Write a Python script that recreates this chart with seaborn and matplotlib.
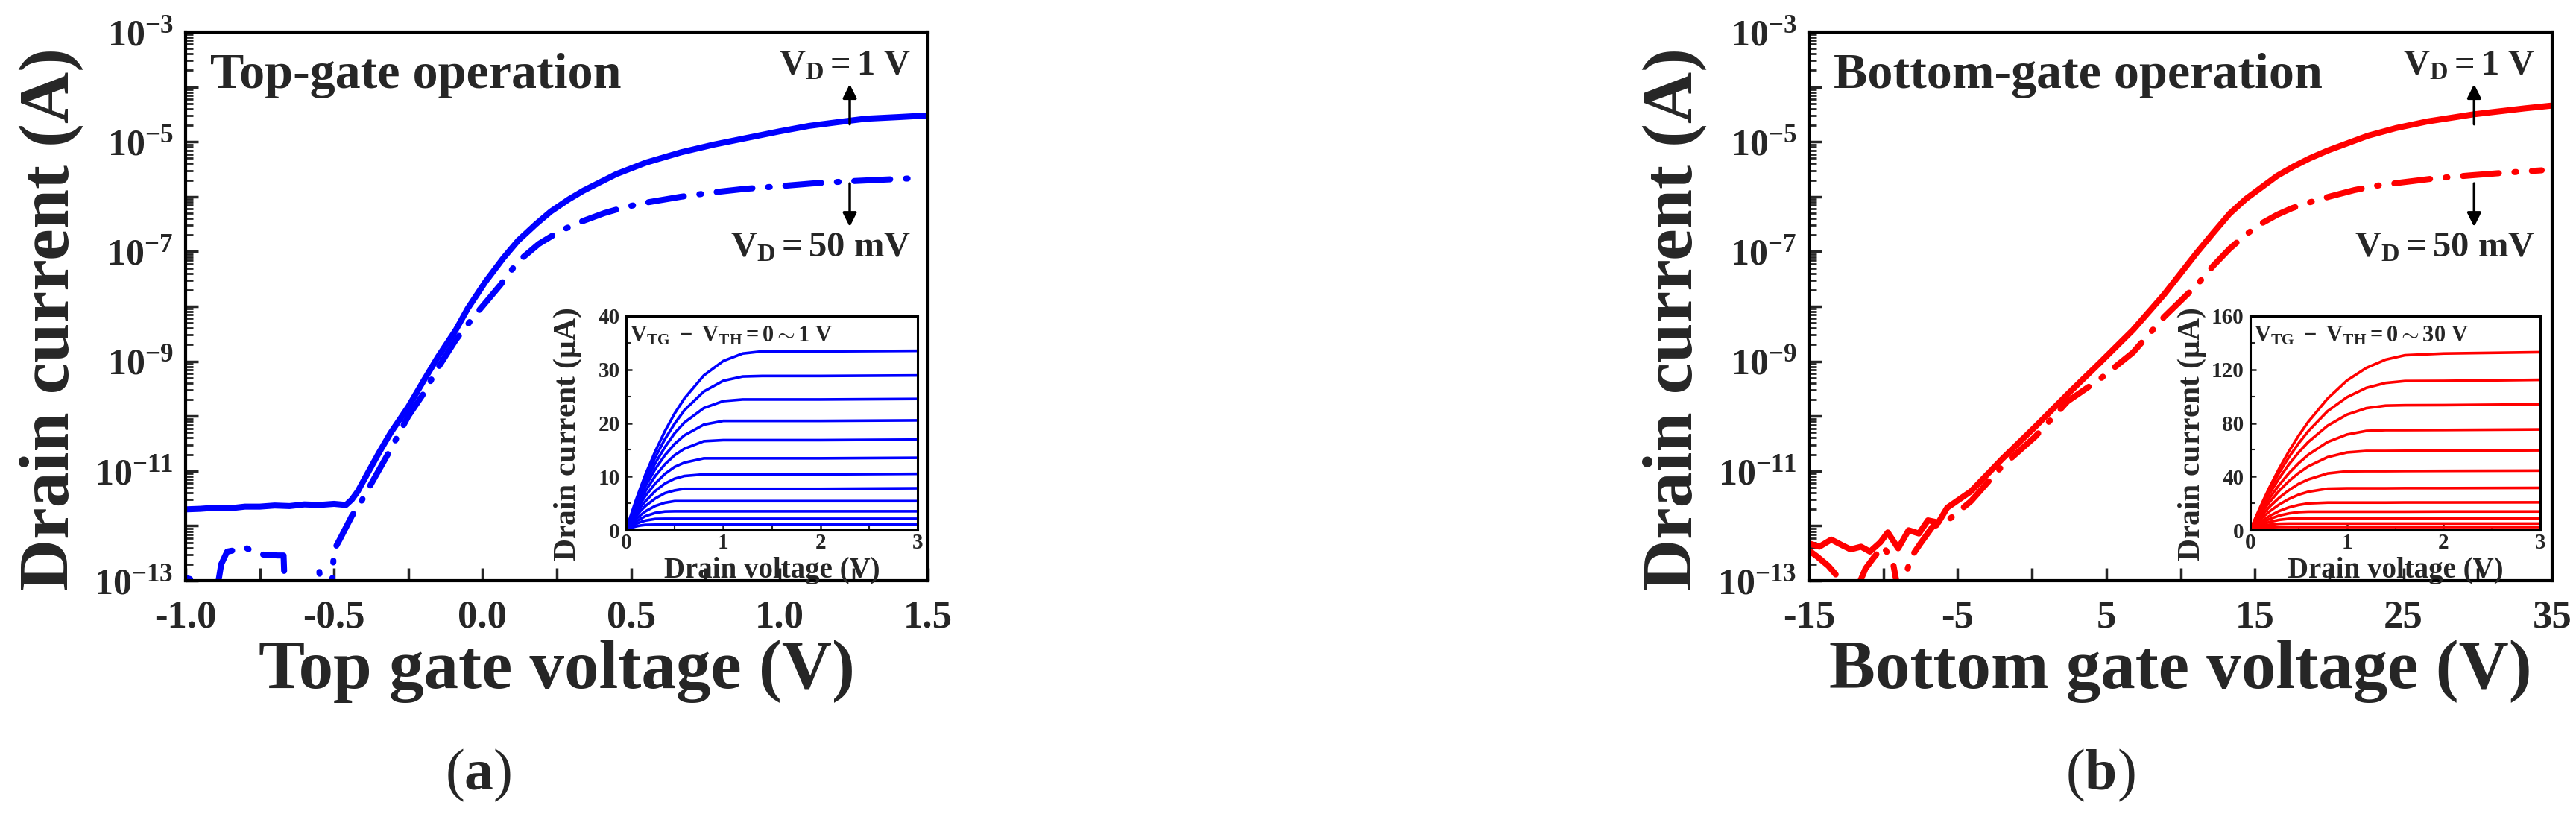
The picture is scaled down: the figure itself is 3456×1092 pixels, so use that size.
import numpy as np
import pandas as pd
import matplotlib
matplotlib.use("Agg")
import matplotlib.pyplot as plt
import seaborn as sns
from matplotlib.ticker import LogLocator, NullFormatter, MultipleLocator

# ---------------- data ----------------
# (a) top-gate transfer curves: gate voltage (V) and log10 of drain current (A)
v_top_1V = [-1.0, -0.95, -0.9, -0.85, -0.8, -0.75, -0.7, -0.65, -0.6, -0.55, -0.5, -0.46, -0.44,
            -0.42, -0.4, -0.35, -0.31, -0.25, -0.2, -0.15, -0.09, -0.05, 0.01, 0.07, 0.12, 0.18,
            0.23, 0.29, 0.34, 0.45, 0.55, 0.67, 0.78, 0.89, 1.0, 1.1, 1.2, 1.29, 1.4, 1.5]
log_top_1V = [-11.70, -11.69, -11.67, -11.68, -11.65, -11.65, -11.63, -11.64, -11.61, -11.62,
              -11.60, -11.62, -11.52, -11.37, -11.17, -10.68, -10.31, -9.83, -9.37, -8.92, -8.43,
              -8.04, -7.55, -7.12, -6.80, -6.50, -6.27, -6.05, -5.89, -5.59, -5.38, -5.19, -5.05,
              -4.93, -4.81, -4.71, -4.64, -4.58, -4.55, -4.52]
v_top_50mV = [-1.0, -0.985, -0.97, -0.91, -0.895, -0.88, -0.86, -0.84, -0.82, -0.8, -0.78, -0.75,
              -0.72, -0.69, -0.67, -0.665, -0.6, -0.56, -0.55, -0.54, -0.51, -0.5, -0.48, -0.46,
              -0.44, -0.41, -0.36, -0.31, -0.25, -0.2, -0.15, -0.09, -0.03, 0.06, 0.12, 0.19,
              0.26, 0.33, 0.41, 0.48, 0.56, 0.67, 0.78, 0.88, 1.0, 1.11, 1.23, 1.35, 1.47]
log_top_50mV = [-12.95, -12.97, -13.4, -13.4, -13.2, -12.7, -12.47, -12.45, -12.42, -12.39,
                -12.45, -12.52, -12.53, -12.54, -12.54, -13.3, -13.4, -13.2, -12.82, -13.3, -13.3,
                -12.44, -12.24, -12.03, -11.82, -11.57, -11.09, -10.61, -10.0, -9.60, -9.12,
                -8.61, -8.19, -7.61, -7.18, -6.86, -6.63, -6.46, -6.30, -6.19, -6.10, -6.00,
                -5.92, -5.86, -5.81, -5.76, -5.72, -5.69, -5.66]

# (b) bottom-gate transfer curves
v_bot_1V = [-15.0, -14.3, -13.5, -12.8, -12.2, -11.5, -10.9, -10.2, -9.7, -9.0, -8.3, -7.6, -7.0,
            -6.3, -5.7, -4.1, -2.0, 0.2, 2.4, 4.6, 6.8, 8.9, 11.1, 12.2, 13.3, 14.4, 15.5, 16.5,
            17.6, 18.7, 19.9, 21.2, 22.6, 24.5, 26.6, 29.7, 33.2, 35.0]
log_bot_1V = [-12.32, -12.38, -12.25, -12.35, -12.43, -12.38, -12.47, -12.30, -12.12, -12.41,
              -12.08, -12.14, -11.90, -11.94, -11.67, -11.37, -10.78, -10.20, -9.60, -9.02,
              -8.43, -7.78, -7.02, -6.66, -6.31, -6.04, -5.82, -5.62, -5.45, -5.30, -5.16,
              -5.03, -4.89, -4.75, -4.63, -4.50, -4.39, -4.34]
v_bot_50mV = [-15.0, -14.5, -13.7, -13.0, -12.2, -11.7, -11.2, -10.65, -10.0, -9.35, -9.0, -8.7,
              -8.15, -7.5, -6.7, -5.65, -4.1, -2.0, 0.2, 2.4, 4.6, 6.8, 8.9, 11.1, 12.2, 13.3,
              14.4, 15.5, 16.5, 17.5, 18.6, 20.0, 21.7, 23.2, 24.9, 27.0, 29.6, 32.0, 34.3]
log_bot_50mV = [-12.45, -12.55, -12.73, -12.95, -13.2, -13.1, -12.78, -12.58, -12.37, -12.67,
                -13.2, -13.1, -12.58, -12.32, -12.02, -11.90, -11.55, -10.91, -10.38, -9.73,
                -9.32, -8.84, -8.19, -7.61, -7.26, -6.95, -6.69, -6.48, -6.33, -6.21, -6.11,
                -6.00, -5.88, -5.80, -5.74, -5.67, -5.61, -5.56, -5.52]

# insets: output curves, drain voltage (V) and drain current (uA)
vd_grid = [0, 0.05, 0.1, 0.15, 0.2, 0.3, 0.4, 0.5, 0.6, 0.8, 1.0, 1.2, 1.4, 1.6, 2.0, 3.0]
inset_top_id = [
    [0, 2.8, 5.5, 8.0, 10.4, 14.7, 18.5, 21.8, 24.6, 28.9, 31.6, 33.0, 33.4, 33.4, 33.4, 33.5],
    [0, 2.6, 5.1, 7.4, 9.6, 13.6, 17.0, 19.9, 22.4, 25.9, 27.9, 28.7, 28.8, 28.8, 28.8, 28.9],
    [0, 2.5, 4.8, 6.9, 8.9, 12.5, 15.5, 18.1, 20.1, 22.8, 24.1, 24.4, 24.4, 24.4, 24.4, 24.5],
    [0, 2.3, 4.4, 6.4, 8.2, 11.4, 14.0, 16.1, 17.7, 19.7, 20.4, 20.4, 20.4, 20.4, 20.4, 20.5],
    [0, 2.0, 4.0, 5.7, 7.3, 10.1, 12.3, 14.0, 15.2, 16.6, 16.8, 16.8, 16.8, 16.8, 16.8, 16.9],
    [0, 1.8, 3.5, 5.0, 6.4, 8.7, 10.5, 11.8, 12.6, 13.4, 13.4, 13.4, 13.4, 13.4, 13.4, 13.5],
    [0, 1.6, 3.0, 4.3, 5.4, 7.3, 8.7, 9.6, 10.1, 10.4, 10.4, 10.4, 10.4, 10.4, 10.4, 10.5],
    [0, 1.3, 2.5, 3.6, 4.5, 5.9, 6.9, 7.4, 7.7, 7.7, 7.7, 7.7, 7.7, 7.7, 7.7, 7.8],
    [0, 1.1, 2.0, 2.8, 3.5, 4.5, 5.1, 5.4, 5.4, 5.4, 5.4, 5.4, 5.4, 5.4, 5.4, 5.4],
    [0, 0.84, 1.55, 2.1, 2.6, 3.2, 3.46, 3.5, 3.5, 3.5, 3.5, 3.5, 3.5, 3.5, 3.5, 3.5],
    [0, 0.62, 1.12, 1.5, 1.77, 2.07, 2.1, 2.1, 2.1, 2.1, 2.1, 2.1, 2.1, 2.1, 2.1, 2.1],
    [0, 0.39, 0.67, 0.85, 0.96, 1.0, 1.0, 1.0, 1.0, 1.0, 1.0, 1.0, 1.0, 1.0, 1.0, 1.0],
]
inset_bot_id = [
    [0, 8.4, 16.6, 24.5, 32.1, 46.1, 58.9, 70.5, 80.9, 98.3, 111.8, 121.2, 127.4, 130.7, 132.0, 133.0],
    [0, 8.0, 15.6, 23.0, 30.0, 42.9, 54.5, 64.8, 73.9, 88.9, 99.3, 106.3, 110.0, 111.4, 111.5, 112.3],
    [0, 7.4, 14.3, 21.0, 27.2, 38.8, 49.1, 58.0, 65.8, 78.0, 86.3, 91.1, 93.0, 93.3, 93.4, 94.0],
    [0, 6.5, 12.6, 18.5, 23.9, 33.8, 42.5, 49.9, 56.3, 65.8, 71.4, 74.1, 74.7, 74.7, 74.8, 75.2],
    [0, 5.7, 11.1, 16.2, 20.9, 29.4, 36.6, 42.6, 47.6, 54.5, 58.0, 59.1, 59.1, 59.2, 59.3, 59.6],
    [0, 4.8, 9.3, 13.5, 17.4, 24.2, 29.8, 34.5, 37.8, 42.3, 43.9, 44.0, 44.0, 44.1, 44.2, 44.4],
    [0, 3.9, 7.6, 10.9, 13.9, 19.1, 23.2, 26.4, 28.6, 30.9, 31.2, 31.2, 31.2, 31.3, 31.3, 31.5],
    [0, 3.1, 5.8, 8.3, 10.5, 14.2, 16.9, 18.7, 19.9, 20.5, 20.5, 20.5, 20.5, 20.6, 20.6, 20.7],
    [0, 2.5, 4.7, 6.6, 8.2, 10.8, 12.4, 13.4, 13.7, 13.7, 13.7, 13.7, 13.7, 13.7, 13.8, 13.8],
    [0, 1.9, 3.6, 4.9, 6.0, 7.6, 8.4, 8.6, 8.6, 8.6, 8.6, 8.6, 8.6, 8.6, 8.6, 8.7],
    [0, 1.4, 2.5, 3.3, 4.0, 4.65, 4.8, 4.8, 4.8, 4.8, 4.8, 4.8, 4.8, 4.8, 4.8, 4.8],
    [0, 0.8, 1.4, 1.8, 2.06, 2.2, 2.2, 2.2, 2.2, 2.2, 2.2, 2.2, 2.2, 2.2, 2.2, 2.2],
]

# tick definitions
y_exponents = list(range(-13, -2))
ytick_labels = [r"$10^{%d}$" % e if e % 2 != 0 else "" for e in y_exponents]
xticks_top = [-1.0, -0.75, -0.5, -0.25, 0.0, 0.25, 0.5, 0.75, 1.0, 1.25, 1.5]
xticklabels_top = ["-1.0", "", "-0.5", "", "0.0", "", "0.5", "", "1.0", "", "1.5"]
xticks_bot = [-15, -10, -5, 0, 5, 10, 15, 20, 25, 30, 35]
xticklabels_bot = ["-15", "", "-5", "", "5", "", "15", "", "25", "", "35"]

# ---------------- style ----------------
sns.set_theme(style="ticks")
plt.rcParams.update({
    "font.family": ["Liberation Serif", "DejaVu Serif"],
    "font.weight": "bold",
    "mathtext.fontset": "custom",
    "mathtext.rm": "Liberation Serif",
    "mathtext.bf": "Liberation Serif:bold",
    "mathtext.it": "Liberation Serif:italic",
    "mathtext.default": "bf",
    "axes.linewidth": 3,
    "axes.edgecolor": "black",
})

BLUE = "#0000FF"
RED = "#FF0000"

fig = plt.figure(figsize=(34.56, 10.92), dpi=100)
fig.patch.set_facecolor("white")


def main_panel(rect, v1, l1, v2, l2, color, xlim, xticks, xticklabels, xlabel, title, arrow_x):
    ax = fig.add_axes(rect)
    d1 = pd.DataFrame({"V": v1, "I": 10.0 ** np.array(l1)})
    d2 = pd.DataFrame({"V": v2, "I": 10.0 ** np.array(l2)})
    sns.lineplot(data=d1, x="V", y="I", ax=ax, color=color, linewidth=5.8,
                 sort=False, estimator=None)
    sns.lineplot(data=d2, x="V", y="I", ax=ax, color=color, linewidth=5.8,
                 sort=False, estimator=None)
    ln = ax.lines[-1]
    ln.set_linestyle((0, (6, 2.6, 0.3, 2.6)))
    ln.set_dash_capstyle("round")
    ax.set_yscale("log")
    ax.set_ylim(1e-13, 1e-3)
    ax.set_xlim(*xlim)
    ax.set_yticks([10.0 ** e for e in y_exponents])
    ax.set_yticklabels(ytick_labels)
    ax.yaxis.set_minor_locator(LogLocator(base=10, subs=np.arange(2, 10), numticks=100))
    ax.yaxis.set_minor_formatter(NullFormatter())
    ax.set_xticks(xticks)
    ax.set_xticklabels(xticklabels)
    ax.tick_params(axis="y", which="major", direction="in", length=12, width=2.5,
                   labelsize=36, pad=12, right=False)
    ax.tick_params(axis="y", which="minor", direction="in", length=7, width=2, right=False)
    ax.tick_params(axis="x", which="major", direction="in", length=12, width=2.5,
                   labelsize=38, pad=18, top=False)
    ax.tick_params(axis="x", which="minor", bottom=False, top=False)
    for s in ax.spines.values():
        s.set_linewidth(3)
        s.set_color("black")
    ax.set_ylabel("Drain current (A)", fontsize=69, fontweight="bold", va="center")
    ax.yaxis.set_label_coords(-0.181, 0.477)
    ax.set_xlabel(xlabel, fontsize=67, fontweight="bold", va="baseline")
    ax.xaxis.set_label_coords(0.5, -0.196)
    ax.text(0.033, 0.898, title, transform=ax.transAxes, fontsize=49,
            fontweight="bold", ha="left", va="baseline")
    ax.text(0.977, 0.9226, r"$V_D = 1\ V$", transform=ax.transAxes, fontsize=35,
            ha="right", va="baseline")
    ax.text(0.977, 0.590, r"$V_D = 50\ mV$", transform=ax.transAxes, fontsize=35,
            ha="right", va="baseline")
    arrow = dict(arrowstyle="-|>", color="black", lw=2.5, mutation_scale=28,
                 shrinkA=0, shrinkB=0)
    ax.annotate("", xy=(arrow_x, 0.905), xytext=(arrow_x, 0.832),
                xycoords="axes fraction", arrowprops=arrow)
    ax.annotate("", xy=(arrow_x, 0.645), xytext=(arrow_x, 0.724),
                xycoords="axes fraction", arrowprops=arrow)
    return ax


def inset_panel(rect, curves, color, ymax, ystep, yminor, label):
    ax = fig.add_axes(rect)
    ax.set_facecolor("white")
    rows = []
    for k, c in enumerate(curves):
        for v, i in zip(vd_grid, c):
            rows.append((k, v, i))
    df = pd.DataFrame(rows, columns=["curve", "Vd", "Id"])
    sns.lineplot(data=df, x="Vd", y="Id", units="curve", estimator=None, ax=ax,
                 color=color, linewidth=2.6, sort=False)
    ax.set_xlim(0, 3)
    ax.set_ylim(0, ymax)
    ax.set_xticks([0, 1, 2, 3])
    ax.xaxis.set_minor_locator(MultipleLocator(0.5))
    ax.set_yticks(np.arange(0, ymax + 1, ystep))
    ax.yaxis.set_minor_locator(MultipleLocator(yminor))
    ax.tick_params(which="major", direction="in", length=6, width=1.8, labelsize=21,
                   top=False, right=False, pad=6)
    ax.tick_params(axis="x", which="major", pad=3)
    ax.tick_params(which="minor", direction="in", length=4, width=1.5, top=False, right=False)
    for s in ax.spines.values():
        s.set_linewidth(2.2)
        s.set_color("black")
    ax.set_ylabel(r"Drain current ($\mathregular{\mu}$A)", fontsize=30, fontweight="bold",
                  va="center")
    ax.yaxis.set_label_coords(-0.20, 0.446)
    ax.set_xlabel("Drain voltage (V)", fontsize=28, fontweight="bold", va="baseline")
    ax.xaxis.set_label_coords(0.5, -0.222)
    ax.text(0.012, 0.88, label, transform=ax.transAxes, fontsize=22, ha="left",
            va="baseline")
    return ax


ax1 = main_panel([249 / 3456, 1 - 779 / 1092, 996 / 3456, 736 / 1092],
                 v_top_1V, log_top_1V, v_top_50mV, log_top_50mV, BLUE, (-1.0, 1.5),
                 xticks_top, xticklabels_top, "Top gate voltage (V)", "Top-gate operation",
                 0.8946)
ax2 = main_panel([2427 / 3456, 1 - 779 / 1092, 997 / 3456, 736 / 1092],
                 v_bot_1V, log_bot_1V, v_bot_50mV, log_bot_50mV, RED, (-15, 35),
                 xticks_bot, xticklabels_bot, "Bottom gate voltage (V)",
                 "Bottom-gate operation", 0.895)

inset_panel([840 / 3456, 1 - 711 / 1092, 391 / 3456, 287 / 1092], inset_top_id, BLUE,
            40, 10, 5, r"$V_{TG}\ -\ V_{TH} = 0 \sim 1\ V$")
inset_panel([3019 / 3456, 1 - 711 / 1092, 389 / 3456, 287 / 1092], inset_bot_id, RED,
            160, 40, 20, r"$V_{TG}\ -\ V_{TH} = 0 \sim 30\ V$")

fig.text(642 / 3456, 1 - 1040 / 1092, r"($a$)", fontsize=56, fontweight="normal",
         ha="center", va="center")
fig.text(2818 / 3456, 1 - 1040 / 1092, r"($b$)", fontsize=56, fontweight="normal",
         ha="center", va="center")

fig.savefig("out.png", dpi=100, facecolor="white")
